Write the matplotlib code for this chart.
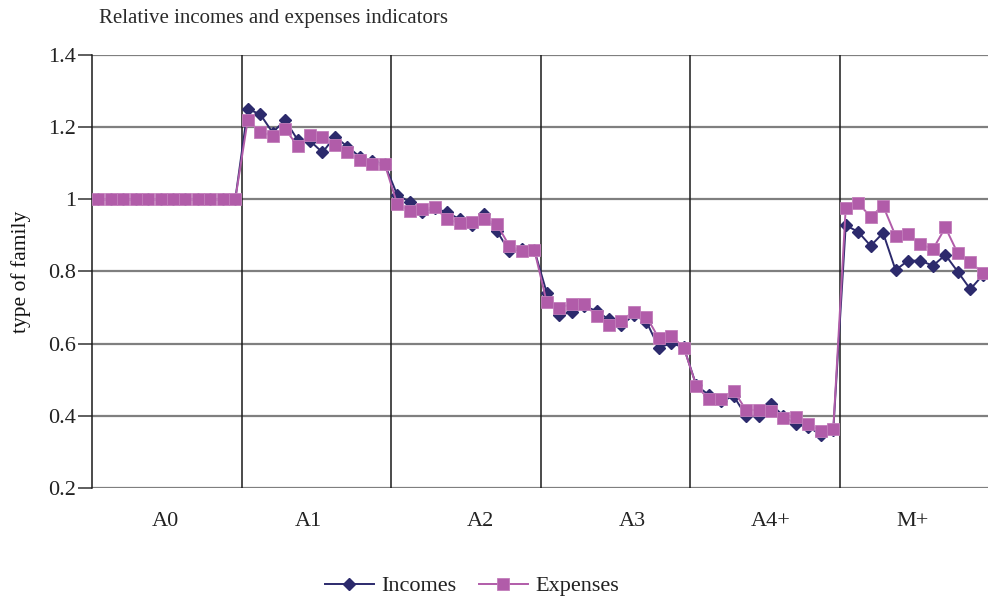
import matplotlib
matplotlib.use("Agg")
import matplotlib.pyplot as plt
import numpy as np
from matplotlib.transforms import blended_transform_factory

# ---- data ----
groups = ["A0", "A1", "A2", "A3", "A4+", "M+"]
points_per_group = 12
incomes = [
    1.0, 1.0, 1.0, 1.0, 1.0, 1.0, 1.0, 1.0, 1.0, 1.0, 1.0, 1.0,
    1.25, 1.236, 1.185, 1.22, 1.165, 1.162, 1.13, 1.174, 1.146, 1.118, 1.105, 1.097,
    1.012, 0.993, 0.965, 0.975, 0.964, 0.945, 0.929, 0.958, 0.912, 0.856, 0.862, 0.86,
    0.741, 0.68, 0.687, 0.705, 0.69, 0.667, 0.652, 0.679, 0.661, 0.589, 0.601, 0.59,
    0.485, 0.458, 0.44, 0.455, 0.40, 0.40, 0.432, 0.40, 0.376, 0.37, 0.347, 0.36,
    0.928, 0.91, 0.871, 0.907, 0.804, 0.83, 0.83, 0.816, 0.846, 0.799, 0.751, 0.79,
]
expenses = [
    1.0, 1.0, 1.0, 1.0, 1.0, 1.0, 1.0, 1.0, 1.0, 1.0, 1.0, 1.0,
    1.22, 1.186, 1.176, 1.195, 1.148, 1.178, 1.172, 1.15, 1.132, 1.108, 1.097, 1.097,
    0.987, 0.968, 0.972, 0.978, 0.945, 0.934, 0.938, 0.945, 0.931, 0.871, 0.857, 0.86,
    0.715, 0.70, 0.71, 0.71, 0.678, 0.652, 0.664, 0.689, 0.675, 0.615, 0.622, 0.589,
    0.484, 0.446, 0.447, 0.47, 0.416, 0.416, 0.413, 0.395, 0.397, 0.376, 0.359, 0.363,
    0.977, 0.989, 0.952, 0.982, 0.899, 0.904, 0.876, 0.862, 0.922, 0.85, 0.827, 0.795,
]
group_label_pos = [5.4, 16.9, 30.7, 42.9, 54.0, 65.4]
yticks = [0.2, 0.4, 0.6, 0.8, 1.0, 1.2, 1.4]
ytick_labels = ["0.2", "0.4", "0.6", "0.8", "1", "1.2", "1.4"]

plt.rcParams["font.family"] = ["Liberation Serif", "DejaVu Serif"]

W, H = 988, 598
fig = plt.figure(figsize=(W / 100, H / 100), dpi=100)
left, right, top, bottom = 92, 989, 55, 488
ax = fig.add_axes([left / W, 1 - bottom / H, (right - left) / W, (bottom - top) / H])

n = len(incomes)
x = np.arange(n)
inc_color = "#2C2A6C"
exp_color = "#B15CA9"

ax.plot(x, incomes, color=inc_color, lw=1.4, marker="D", ms=6,
        markeredgecolor=inc_color, label="Incomes", zorder=3, clip_on=False)
ax.plot(x, expenses, color=exp_color, lw=1.4, marker="s", ms=8.5,
        markeredgecolor="#C27DBB", markeredgewidth=0.6, label="Expenses",
        zorder=4, clip_on=False)

ax.set_xlim(-0.5, n - 0.5)
ax.set_ylim(0.2, 1.4)
ax.set_yticks(yticks)
ax.set_yticklabels(ytick_labels)
ax.set_xticks([])

# gridlines
for yv in yticks:
    ax.axhline(yv, color="#7F7F7F", lw=1.6, zorder=1)
# group separators
for k in range(1, len(groups)):
    ax.axvline(k * points_per_group - 0.5, color="#1A1A1A", lw=1.1, zorder=1)

for s in ["top", "right", "bottom"]:
    ax.spines[s].set_visible(False)
ax.spines["left"].set_color("#1A1A1A")
ax.spines["left"].set_linewidth(1.1)
ax.tick_params(axis="y", direction="out", length=10, width=1.1, color="#333333",
               labelsize=16, labelcolor="#222222", pad=1.5)

ax.set_ylabel("type of family", fontsize=15.5, color="#111111", labelpad=12)

tr = blended_transform_factory(ax.transData, fig.transFigure)
for g, px in zip(groups, group_label_pos):
    ax.text(px, 1 - 521 / H, g, transform=tr, ha="center", va="center",
            fontsize=16, color="#222222")

fig.text(99 / W, 1 - 19 / H, "Relative incomes and expenses indicators",
         ha="left", va="center", fontsize=15, color="#2A2A2A")

leg = fig.legend(loc="center", bbox_to_anchor=(472 / W, 1 - 586 / H), ncol=2,
                 frameon=False, fontsize=16, handlelength=2.2, columnspacing=1.0,
                 handletextpad=0.35)
for t in leg.get_texts():
    t.set_color("#222222")

fig.savefig("out.png", dpi=100)
